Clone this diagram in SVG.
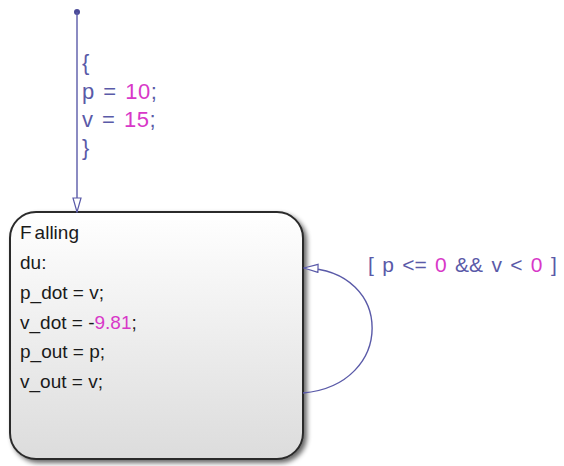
<svg xmlns="http://www.w3.org/2000/svg" width="564" height="466" viewBox="0 0 564 466">
<style>
.t{font-family:"Liberation Sans",Arial,sans-serif;font-size:19px;fill:#1a1a1a}
.e{font-family:"Liberation Sans",Arial,sans-serif;font-size:22px;word-spacing:2px;letter-spacing:0.5px;fill:#5a5aa8}
.l{font-family:"Liberation Sans",Arial,sans-serif;font-size:21px;word-spacing:2.5px;fill:#5a5aa8}
.n{fill:#d838c8}
.c{fill:none;stroke:#5a5aa8;stroke-width:1.4}
</style>
<defs>
<linearGradient id="g" x1="0" y1="0" x2="0" y2="1">
<stop offset="0" stop-color="#ffffff"/>
<stop offset="1" stop-color="#dcdcdc"/>
</linearGradient>
<filter id="s" x="-10%" y="-10%" width="120%" height="120%">
<feGaussianBlur in="SourceAlpha" stdDeviation="2.5"/>
<feOffset dx="3" dy="3"/>
<feComponentTransfer><feFuncA type="linear" slope="0.6"/></feComponentTransfer>
<feMerge><feMergeNode/><feMergeNode in="SourceGraphic"/></feMerge>
</filter>
<marker id="a" markerWidth="16" markerHeight="10" refX="15" refY="5" orient="auto" markerUnits="userSpaceOnUse">
<path d="M1,1 L15,5 L1,9 Z" fill="#fff" stroke="#5a5aa8" stroke-width="1.2"/>
</marker>
</defs>
<g id="Falling">
<rect x="10" y="212" width="293" height="247" rx="26" ry="26" fill="url(#g)" stroke="#2a2a2a" stroke-width="2" filter="url(#s)"/>
<text class="t" x="20" y="239">F<tspan dx="3">alling</tspan></text>
<text class="t" x="20" y="269">du:</text>
<text class="t" x="20" y="299">p_dot = v;</text>
<text class="t" x="20" y="329">v_dot = -<tspan class="n">9.81</tspan>;</text>
<text class="t" x="20" y="358">p_out = p;</text>
<text class="t" x="20" y="388">v_out = v;</text>
</g>
<g id="connectors">
<circle cx="77" cy="12" r="3" fill="#4a4a98"/>
<path class="c" d="M77,12 L77,212" marker-end="url(#a)"/>
<text class="e" x="82" y="70">{</text>
<text class="e" x="82" y="99">p = <tspan class="n">10</tspan>;</text>
<text class="e" x="82" y="127">v = <tspan class="n">15</tspan>;</text>
<text class="e" x="82" y="155">}</text>
<path class="c" d="M303,393 C395,385 395,270 304,268" marker-end="url(#a)"/>
<text class="l" x="368" y="272">[ p &lt;= <tspan class="n">0</tspan> &amp;&amp; v &lt; <tspan class="n">0</tspan> ]</text>
</g>
</svg>
